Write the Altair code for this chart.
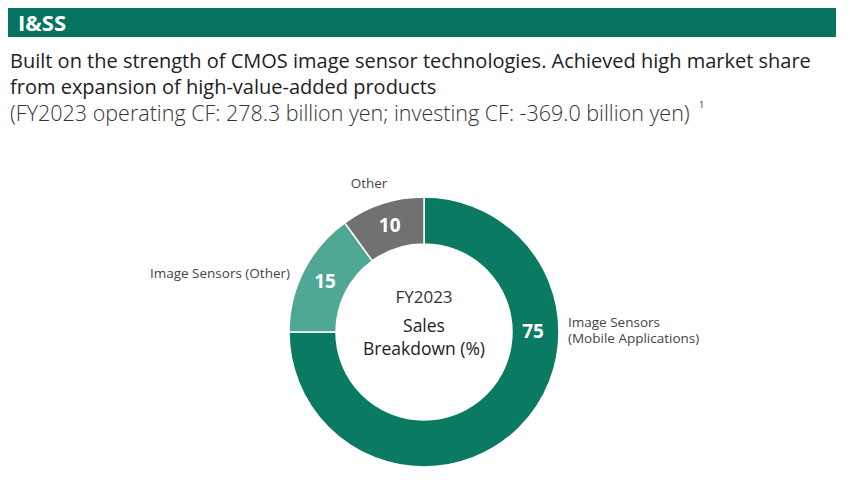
import altair as alt
import pandas as pd

categories = ["Image Sensors (Mobile Applications)", "Image Sensors (Other)", "Other"]
shares = [75, 15, 10]
order = [1, 2, 3]
colors = ["#0b7a62", "#4fa794", "#717171"]

header_text = "I&SS"
subtitle_lines = [
    "Built on the strength of CMOS image sensor technologies. Achieved high market share",
    "from expansion of high-value-added products",
]
cf_line = "(FY2023 operating CF: 278.3 billion yen; investing CF: -369.0 billion yen)"
footnote_mark = "1"
center_lines = ["FY2023", "Sales", "Breakdown (%)"]

FONT = "Open Sans"
CX, CY = 416, 324
R_OUT, R_IN = 135, 88

df = pd.DataFrame({"category": categories, "share": shares, "order": order})

base = alt.Chart(df)

arcs = base.mark_arc(outerRadius=R_OUT, innerRadius=R_IN, stroke="white", strokeWidth=1.5).encode(
    theta=alt.Theta("share:Q", stack=True),
    order=alt.Order("order:Q"),
    color=alt.Color("category:N", scale=alt.Scale(domain=categories, range=colors), legend=None),
    x=alt.value(CX),
    y=alt.value(CY),
)

num_labels = base.transform_window(
    cum="sum(share)", sort=[alt.SortField("order")], frame=[None, 0]
).transform_calculate(
    mid="(datum.cum - datum.share/2) / 100 * 2 * PI",
).transform_filter(alt.datum.order > 1).transform_calculate(
    px=f"{CX} + 111 * sin(datum.mid)",
    py=f"{CY} - 111 * cos(datum.mid)",
).mark_text(
    font=FONT, fontSize=19, fontWeight="bold", color="white"
).encode(
    x=alt.X("px:Q", scale=None),
    y=alt.Y("py:Q", scale=None),
    text=alt.Text("share:Q"),
)

big_label = base.transform_filter(alt.datum.order == 1).mark_text(
    font=FONT, fontSize=19, fontWeight="bold", color="white"
).encode(x=alt.value(CX + 109), y=alt.value(CY), text=alt.Text("share:Q"))

header_bar = alt.Chart(pd.DataFrame({"a": [0]})).mark_rect(color="#08735f").encode(
    x=alt.value(0), x2=alt.value(828), y=alt.value(0), y2=alt.value(29)
)

def txt(text, x, y, size, color="#222222", weight="normal", align="left", baseline="middle"):
    kw = dict(font=FONT, fontSize=size, color=color, fontWeight=weight, align=align, baseline=baseline)
    return alt.Chart(pd.DataFrame({"t": [text]})).mark_text(**kw).encode(
        x=alt.value(x), y=alt.value(y), text="t:N"
    )

layers = [
    header_bar,
    txt(header_text, 10, 16, 22, color="white", weight="bold"),
    txt(subtitle_lines[0], 2, 54, 20),
    txt(subtitle_lines[1], 2, 80, 20),
    txt(cf_line, 2, 107, 21.5, color="#333333", weight=300),
    txt(footnote_mark, 691, 97, 9, color="#333333"),
    arcs,
    num_labels,
    big_label,
    txt(center_lines[0], CX, 290, 17, color="#333333", align="center"),
    txt(center_lines[1], CX, 319, 17.5, color="#222222", align="center"),
    txt(center_lines[2], CX, 342, 17.5, color="#222222", align="center"),
    txt("Other", 361, 176, 13.5, color="#444444", align="center"),
    txt("Image Sensors (Other)", 282, 266, 13.5, color="#444444", align="right"),
    txt("Image Sensors", 560, 315, 13.5, color="#444444"),
    txt("(Mobile Applications)", 560, 331, 13.5, color="#444444"),
]

chart = alt.layer(*layers).properties(
    width=834, height=478, autosize=alt.AutoSizeParams(type="none"), padding=0
).configure_view(strokeWidth=0)

chart.save("out.html", embed_options={"renderer": "svg", "actions": False})
